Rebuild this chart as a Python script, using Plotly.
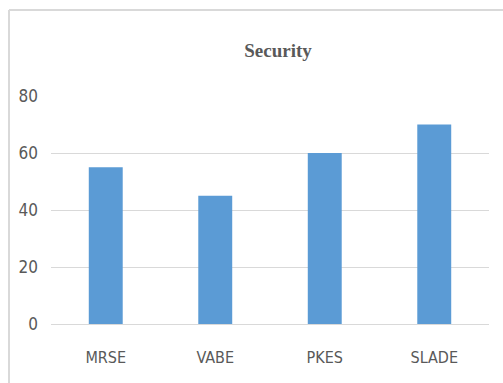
import plotly.graph_objects as go

categories = ["MRSE", "VABE", "PKES", "SLADE"]
values = [55, 45, 60, 70]
y_ticks = [0, 20, 40, 60, 80]
title_text = "Security"

W, H = 503, 383
L, R, T, B = 51, 14, 96, 59
pw = W - L - R
ph = H - T - B

fig = go.Figure(go.Bar(
    x=categories, y=values,
    marker=dict(color="#5B9BD5", line=dict(width=0)),
    width=0.31,
))

def px_to_paper_x(px):
    return (px - L) / pw

def py_to_paper_y(py):
    return (H - B - py) / ph

font_family = "Liberation Sans Narrow, DejaVu Sans Condensed, Roboto, sans-serif"
x_tick_font = dict(family=font_family, size=16, color="#595959")
y_tick_font = dict(family=font_family, size=17, color="#595959")

fig.update_layout(
    width=W, height=H,
    margin=dict(l=L, r=R, t=T, b=B),
    paper_bgcolor="white", plot_bgcolor="white",
    showlegend=False,
    title=dict(
        text="<b>" + title_text + "</b>",
        x=px_to_paper_x(278), xref="paper", xanchor="center",
        y=(H - 50) / H, yref="container", yanchor="middle",
        font=dict(family="Liberation Serif, Times New Roman, serif", size=19, color="#595959"),
    ),
    xaxis=dict(
        showgrid=False, showline=False, zeroline=False,
        ticks="", tickfont=x_tick_font, ticklabelstandoff=22,
    ),
    yaxis=dict(
        range=[0, 80], tickvals=y_ticks,
        showgrid=True, gridcolor="#D9D9D9", gridwidth=1,
        zeroline=True, zerolinecolor="#D9D9D9", zerolinewidth=1,
        showline=False, ticks="", tickfont=y_tick_font, ticklabelstandoff=12,
    ),
    shapes=[
        dict(type="line", xref="paper", yref="paper",
             x0=px_to_paper_x(9), x1=px_to_paper_x(503), y0=py_to_paper_y(10), y1=py_to_paper_y(10),
             line=dict(color="#D9D9D9", width=2)),
        dict(type="line", xref="paper", yref="paper",
             x0=px_to_paper_x(9), x1=px_to_paper_x(9), y0=py_to_paper_y(10), y1=py_to_paper_y(383),
             line=dict(color="#D9D9D9", width=2)),
    ],
)

fig.write_html("out.html")
